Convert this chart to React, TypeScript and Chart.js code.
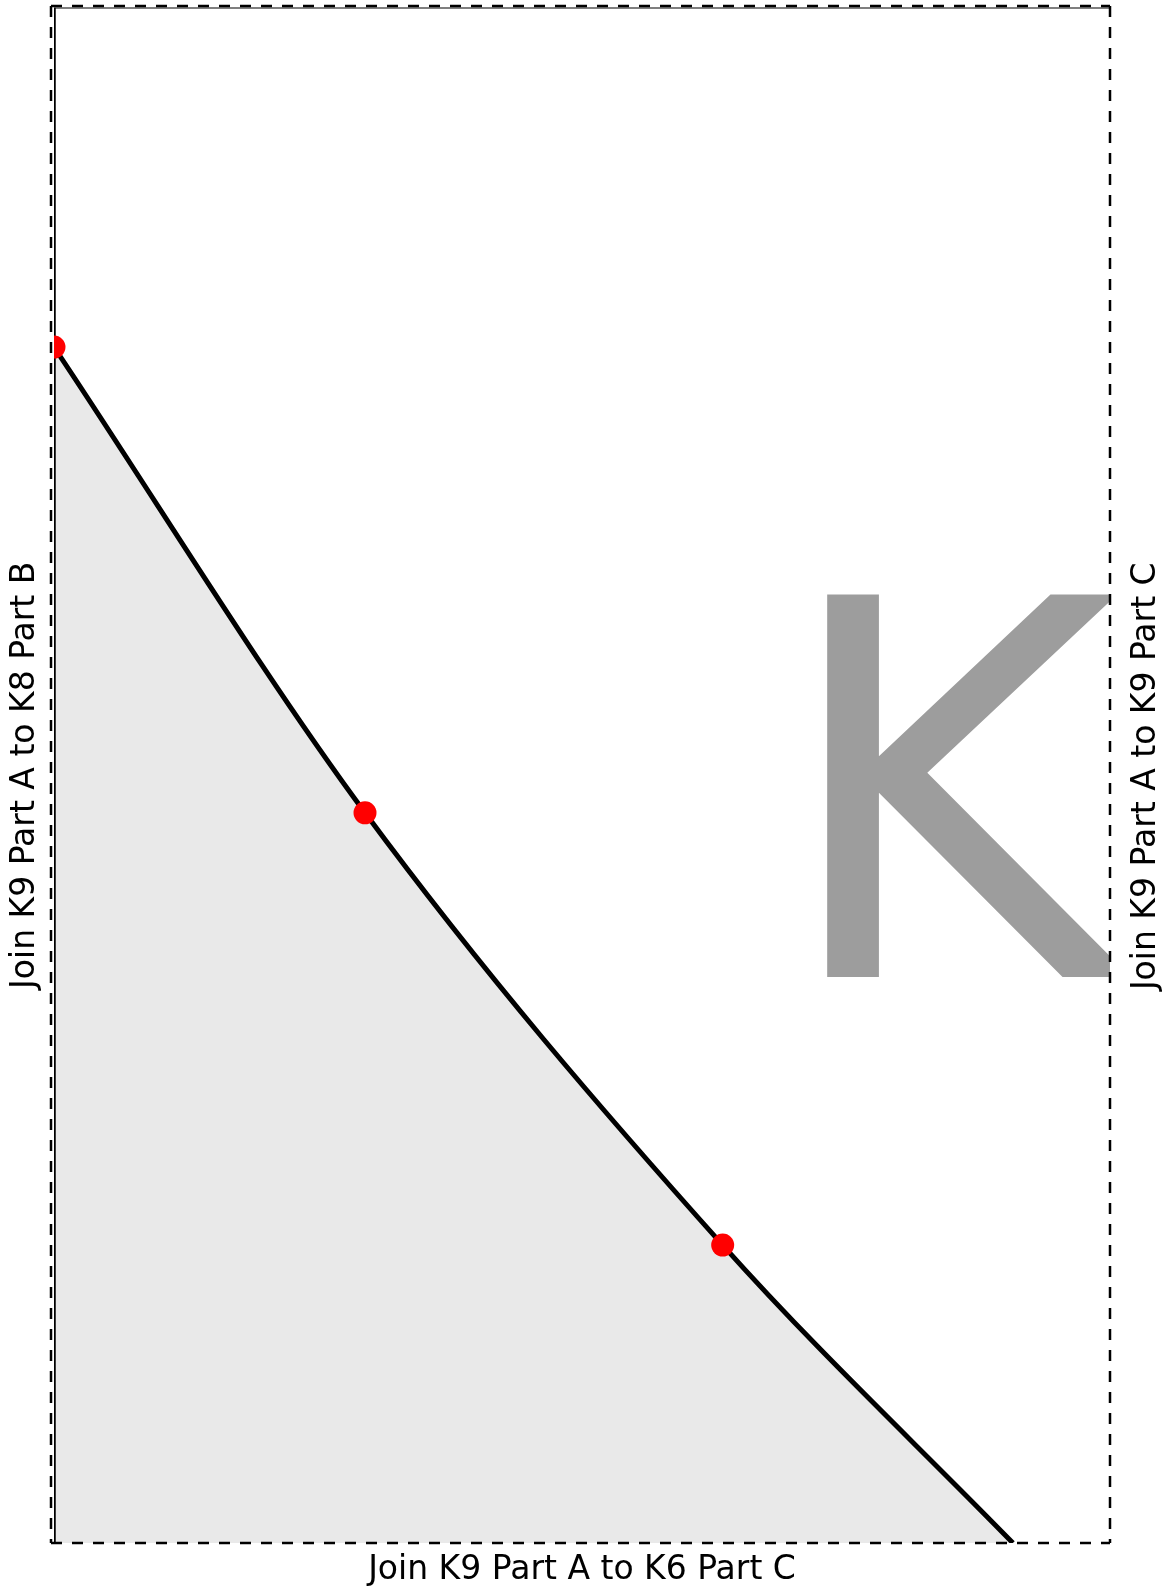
import React, { useEffect, useRef } from "react";
import { Chart, registerables } from "chart.js";

Chart.register(...registerables);

// ---- texts ----
const bottomTitle = "Join K9 Part A to K6 Part C";
const leftTitle = "Join K9 Part A to K8 Part B";
const rightTitle = "Join K9 Part A to K9 Part C";
const pieceLetter = "K";

// ---- axes ranges (data units) ----
const xRange = [0, 31];
const yRange = [0, 45];

// ---- seam curve ----
const curveX = [0, 9.13, 19.63, 28.15];
const curveY = [35.05, 21.4, 8.73, 0];

// ---- red markers ----
const markerX = [0, 9.13, 19.63];
const markerY = [35.05, 21.4, 8.73];

// ---- solid outline edges ----
const leftEdgeX = [0, 0];
const leftEdgeY = [0, 45];
const topEdgeX = [0, 31];
const topEdgeY = [45, 45];

// ---- big letter placement (data units) ----
const letterX = [22.63]; // left of the stem
const letterY = [16.59]; // baseline
const letterCap = [11.22]; // cap height

const FONT = "'DejaVu Sans', sans-serif";
const TITLE_SIZE = 33;

const toPts = (xs: number[], ys: number[]) => xs.map((x, i) => ({ x, y: ys[i] }));

const letterPlugin = {
  id: "letterPlugin",
  beforeDatasetsDraw(chart: any) {
    const { ctx, chartArea, scales } = chart;
    const xs = scales.x;
    const ys = scales.y;
    ctx.save();
    ctx.beginPath();
    ctx.rect(chartArea.left, chartArea.top, chartArea.right - chartArea.left, chartArea.bottom - chartArea.top);
    ctx.clip();
    const capPx = Math.abs(ys.getPixelForValue(0) - ys.getPixelForValue(letterCap[0]));
    ctx.font = `100px ${FONT}`;
    const m100 = ctx.measureText(pieceLetter);
    const size = (capPx / m100.actualBoundingBoxAscent) * 100;
    ctx.font = `${size}px ${FONT}`;
    const m = ctx.measureText(pieceLetter);
    ctx.fillStyle = "#9d9d9d";
    ctx.textAlign = "left";
    ctx.textBaseline = "alphabetic";
    const px = xs.getPixelForValue(letterX[0]) + m.actualBoundingBoxLeft;
    const py = ys.getPixelForValue(letterY[0]);
    ctx.fillText(pieceLetter, px, py);
    ctx.restore();
  },
};

const borderPlugin = {
  id: "borderPlugin",
  afterDatasetsDraw(chart: any) {
    const { ctx, chartArea } = chart;
    const l = chartArea.left - 3;
    const t = chartArea.top - 1.5;
    const r = chartArea.right;
    const b = chartArea.bottom;
    ctx.save();
    ctx.strokeStyle = "#000";
    ctx.lineWidth = 2.5;
    ctx.setLineDash([11, 10]);
    const seg = (x1: number, y1: number, x2: number, y2: number) => {
      ctx.beginPath();
      ctx.moveTo(x1, y1);
      ctx.lineTo(x2, y2);
      ctx.stroke();
    };
    seg(l, t, r, t);
    seg(r, t, r, b);
    seg(l, b, r, b);
    seg(l, t, l, b);
    ctx.restore();
  },
};

const rightTitlePlugin = {
  id: "rightTitlePlugin",
  afterDraw(chart: any) {
    const { ctx, chartArea } = chart;
    ctx.save();
    ctx.translate(chartArea.right + 36, (chartArea.top + chartArea.bottom) / 2 + 1);
    ctx.rotate(-Math.PI / 2);
    ctx.font = `${TITLE_SIZE}px ${FONT}`;
    ctx.fillStyle = "#000";
    ctx.textAlign = "center";
    ctx.textBaseline = "middle";
    ctx.fillText(rightTitle, 0, 0);
    ctx.restore();
  },
};

export default function App() {
  const ref = useRef<HTMLCanvasElement | null>(null);

  useEffect(() => {
    if (!ref.current) return;
    Chart.defaults.font.family = FONT;
    const chart = new Chart(ref.current, {
      type: "line",
      data: {
        datasets: [
          {
            label: "markers",
            data: toPts(markerX, markerY),
            showLine: false,
            pointRadius: 11.5,
            pointBackgroundColor: "#ff0000",
            pointBorderWidth: 0,
            clip: 0,
            order: 0,
          } as any,
          {
            label: "left edge",
            data: toPts(leftEdgeX, leftEdgeY),
            borderColor: "#000",
            borderWidth: 3.5,
            pointRadius: 0,
            fill: false,
            order: 1,
          },
          {
            label: "top edge",
            data: toPts(topEdgeX, topEdgeY),
            borderColor: "#000",
            borderWidth: 2,
            pointRadius: 0,
            fill: false,
            order: 2,
          },
          {
            label: "seam",
            data: toPts(curveX, curveY),
            borderColor: "#000",
            borderWidth: 5,
            pointRadius: 0,
            cubicInterpolationMode: "monotone",
            fill: "origin",
            backgroundColor: "#e9e9e9",
            order: 3,
          },
        ],
      },
      options: {
        animation: false,
        responsive: false,
        maintainAspectRatio: false,
        devicePixelRatio: 1,
        layout: { autoPadding: false, padding: { top: 7.5, right: 54, left: 0, bottom: 0 } },
        plugins: {
          legend: { display: false },
          tooltip: { enabled: false },
        },
        scales: {
          x: {
            type: "linear",
            min: xRange[0],
            max: xRange[1],
            grid: { display: false },
            border: { display: false },
            ticks: { display: false },
            title: {
              display: true,
              text: bottomTitle,
              color: "#000",
              font: { size: TITLE_SIZE, family: FONT, lineHeight: 1.1 },
              padding: { top: 0, bottom: 0 },
            },
            afterFit: (s: any) => {
              s.height = 46;
            },
          },
          y: {
            type: "linear",
            min: yRange[0],
            max: yRange[1],
            grid: { display: false },
            border: { display: false },
            ticks: { display: false },
            title: {
              display: true,
              text: leftTitle,
              color: "#000",
              font: { size: TITLE_SIZE, family: FONT, lineHeight: 1.1 },
              padding: { top: 7, bottom: 0 },
            },
            afterFit: (s: any) => {
              s.width = 54;
            },
          },
        },
      },
      plugins: [letterPlugin, borderPlugin, rightTitlePlugin],
    } as any);
    return () => chart.destroy();
  }, []);

  return (
    <div style={{ position: "absolute", left: 0, top: 0, width: 1164, height: 1589 }}>
      <canvas ref={ref} width={1164} height={1589} style={{ width: 1164, height: 1589, display: "block" }} />
    </div>
  );
}
